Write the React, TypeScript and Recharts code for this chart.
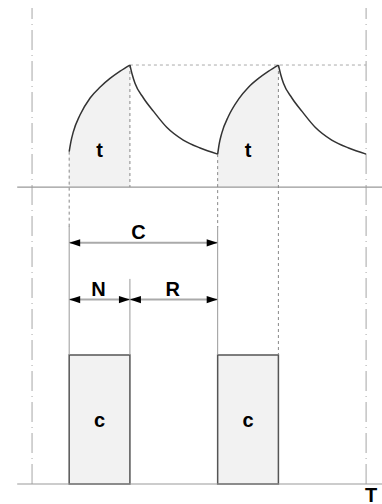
import { ComposedChart, Line, Area, XAxis, YAxis, ReferenceLine, ReferenceArea, ReferenceDot } from 'recharts';

// time axis: 0 .. T
const T_END = 99;
const X_DOMAIN = [-9.5, 103.7];

// signal (top panel), 1 = peak level
const times = [11, 11.5, 12.2, 14.2, 17.2, 20.2, 23.1, 26.1, 29, 29.7, 30.5, 33, 36, 39.9, 44.8, 49.8, 55,
  55.5, 56.2, 58.2, 61.2, 64.2, 67.1, 70.1, 73, 73.7, 74.5, 77, 80, 83.9, 88.8, 93.8, 99];
const levels = [0.29, 0.37, 0.45, 0.59, 0.73, 0.82, 0.89, 0.95, 1.0, 0.92, 0.85, 0.73, 0.62, 0.49, 0.385, 0.32, 0.27,
  0.36, 0.44, 0.58, 0.72, 0.82, 0.89, 0.95, 1.0, 0.92, 0.85, 0.73, 0.62, 0.49, 0.385, 0.32, 0.27];

// pulses (bottom panel)
const pulseStarts = [11, 55];
const N = 18; // on time
const R = 26; // rest time
const pulseHeight = 1;

const SIG_DOMAIN = [-2.598, 1.533];
const PULSE_DOMAIN = [-0.155, 3.752];

// annotation levels on the pulse axis
const GUIDE_TOP = 2.0;
const C_LEVEL = 1.87;
const NR_LEVEL = 1.43;
const NR_TICK_TOP = 1.59;
const SIG_GUIDE_END = -0.33;

const FONT = '"Liberation Sans", Arial, sans-serif';

const inRise = (t: number) => pulseStarts.some((s) => t >= s && t <= s + N);
const inDecay = (t: number) => pulseStarts.some((s) => t >= s + N && t <= s + N + R);

const rows = times.map((t, i) => ({
  t,
  rise: inRise(t) ? levels[i] : null,
  decay: inDecay(t) ? levels[i] : null,
}));

const lbl = (text: string, size = 20) => (p: any) => (
  <text x={p.cx} y={p.cy} textAnchor="middle" dominantBaseline="central"
    fontFamily={FONT} fontWeight="bold" fontSize={size} fill="#000">{text}</text>
);

const arrow = (text: string, dx = 0) => (p: any) => {
  const { x1, y1, x2 } = p;
  const a = 11, h = 3.6;
  return (
    <g>
      <line x1={x1} y1={y1} x2={x2} y2={y1} stroke="#aaa" strokeWidth={2} />
      <polygon points={`${x1},${y1} ${x1 + a},${y1 - h} ${x1 + a},${y1 + h}`} fill="#000" />
      <polygon points={`${x2},${y1} ${x2 - a},${y1 - h} ${x2 - a},${y1 + h}`} fill="#000" />
      <text x={(x1 + x2) / 2 + dx} y={y1 - 11} textAnchor="middle" dominantBaseline="central"
        fontFamily={FONT} fontWeight="bold" fontSize={20} fill="#000">{text}</text>
    </g>
  );
};

const dotted = { stroke: '#888', strokeWidth: 1, strokeDasharray: '3 3' };
const guide = { stroke: '#999', strokeWidth: 1 };
const border = { stroke: '#c4c4c4', strokeWidth: 1.5, strokeDasharray: '20 5 1 5' };

export default function App() {
  const [s1, s2] = pulseStarts;
  return (
    <div style={{ position: 'absolute', left: 0, top: 0, background: '#fff' }}>
      <ComposedChart width={382} height={504} data={rows} margin={{ top: 0, right: 0, bottom: 0, left: 0 }}>
        <XAxis type="number" dataKey="t" domain={X_DOMAIN} hide allowDataOverflow />
        <YAxis yAxisId="sig" type="number" domain={SIG_DOMAIN} hide allowDataOverflow />
        <YAxis yAxisId="pulse" type="number" domain={PULSE_DOMAIN} hide allowDataOverflow />

        <Area yAxisId="sig" dataKey="rise" type="monotone" fill="#f2f2f2" fillOpacity={1} stroke="none"
          baseValue={0} dot={false} activeDot={false} isAnimationActive={false} />

        {/* outer dash-dot borders */}
        <ReferenceLine yAxisId="pulse" ifOverflow="visible" segment={[{ x: 0, y: 0 }, { x: 0, y: 3.69 }]} {...border} />
        <ReferenceLine yAxisId="pulse" ifOverflow="visible" segment={[{ x: T_END, y: 0 }, { x: T_END, y: 3.69 }]} {...border} />

        {/* baselines */}
        <ReferenceLine yAxisId="sig" ifOverflow="visible" segment={[{ x: -4.4, y: 0 }, { x: 103.7, y: 0 }]} stroke="#999" strokeWidth={1.2} />
        <ReferenceLine yAxisId="pulse" ifOverflow="visible" segment={[{ x: -4.4, y: 0 }, { x: 103.7, y: 0 }]} stroke="#999" strokeWidth={1.2} />

        {/* peak level */}
        <ReferenceLine yAxisId="sig" ifOverflow="visible" segment={[{ x: s1 + N, y: 1 }, { x: T_END, y: 1 }]} {...dotted} stroke="#aaa" />

        {/* dotted drop lines */}
        <ReferenceLine yAxisId="sig" ifOverflow="visible" segment={[{ x: s1, y: levels[0] }, { x: s1, y: SIG_GUIDE_END }]} {...dotted} />
        <ReferenceLine yAxisId="sig" ifOverflow="visible" segment={[{ x: s1 + N, y: 1 }, { x: s1 + N, y: 0 }]} {...dotted} />
        <ReferenceLine yAxisId="sig" ifOverflow="visible" segment={[{ x: s2, y: 0.27 }, { x: s2, y: SIG_GUIDE_END }]} {...dotted} />
        <ReferenceLine yAxisId="sig" ifOverflow="visible" segment={[{ x: s2 + N, y: 1 }, { x: s2 + N, y: -1.377 }]} {...dotted} />

        {/* solid guides */}
        <ReferenceLine yAxisId="pulse" ifOverflow="visible" segment={[{ x: s1, y: GUIDE_TOP }, { x: s1, y: pulseHeight }]} {...guide} />
        <ReferenceLine yAxisId="pulse" ifOverflow="visible" segment={[{ x: s2, y: GUIDE_TOP }, { x: s2, y: pulseHeight }]} {...guide} />
        <ReferenceLine yAxisId="pulse" ifOverflow="visible" segment={[{ x: s1 + N, y: NR_TICK_TOP }, { x: s1 + N, y: pulseHeight }]} {...guide} />

        {/* dimension arrows */}
        <ReferenceLine yAxisId="pulse" ifOverflow="visible" segment={[{ x: s1, y: C_LEVEL }, { x: s2, y: C_LEVEL }]} shape={arrow('C', -5)} />
        <ReferenceLine yAxisId="pulse" ifOverflow="visible" segment={[{ x: s1, y: NR_LEVEL }, { x: s1 + N, y: NR_LEVEL }]} shape={arrow('N', -1)} />
        <ReferenceLine yAxisId="pulse" ifOverflow="visible" segment={[{ x: s1 + N, y: NR_LEVEL }, { x: s1 + N + R, y: NR_LEVEL }]} shape={arrow('R', -1)} />

        {/* pulses */}
        {pulseStarts.map((s) => (
          <ReferenceArea key={s} yAxisId="pulse" ifOverflow="visible" x1={s} x2={s + N} y1={0} y2={pulseHeight}
            fill="#f2f2f2" fillOpacity={1} stroke="#555" strokeWidth={1.5} />
        ))}

        <Line yAxisId="sig" dataKey="rise" type="monotone" stroke="#333" strokeWidth={1.5} dot={false} activeDot={false} isAnimationActive={false} />
        <Line yAxisId="sig" dataKey="decay" type="monotone" stroke="#333" strokeWidth={1.5} dot={false} activeDot={false} isAnimationActive={false} />

        {pulseStarts.map((s) => (
          <ReferenceDot key={'t' + s} yAxisId="sig" x={s + N / 2} y={0.3} r={0} ifOverflow="visible" shape={lbl('t')} />
        ))}
        {pulseStarts.map((s) => (
          <ReferenceDot key={'c' + s} yAxisId="pulse" x={s + N / 2} y={0.5} r={0} ifOverflow="visible" shape={lbl('c')} />
        ))}
        <ReferenceDot yAxisId="pulse" x={100.5} y={-0.085} r={0} ifOverflow="visible" shape={lbl('T')} />
      </ComposedChart>
    </div>
  );
}
